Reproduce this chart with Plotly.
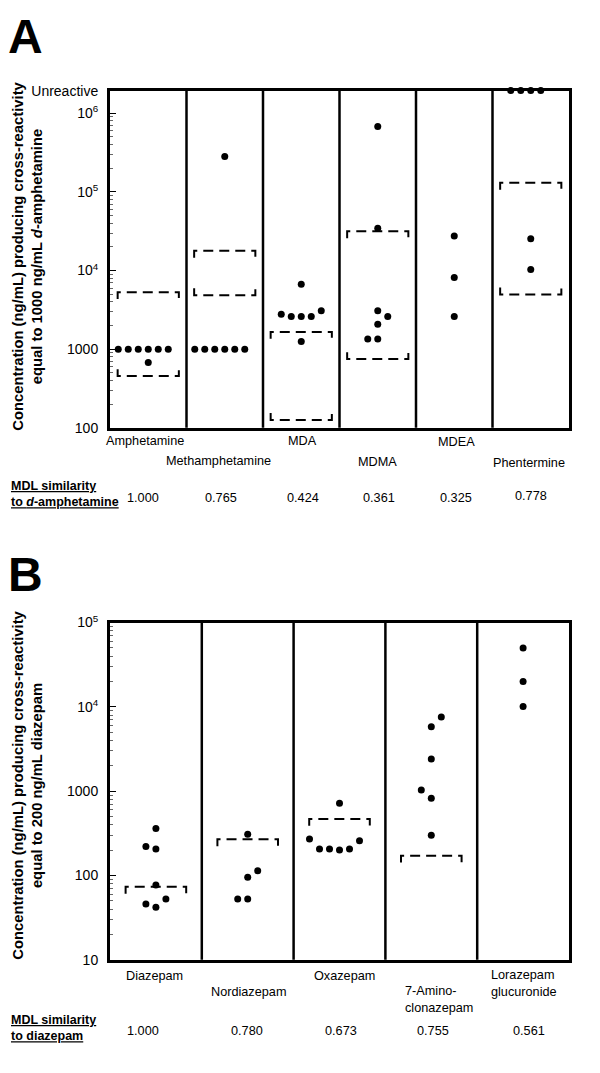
import math
import plotly.graph_objects as go

W, H = 600, 1073
FONT = "Liberation Sans, Arial, Helvetica, sans-serif"

# ---------------- Panel A data (ng/mL) ----------------
UNREACTIVE = 1.94e6  # value used for the "Unreactive" row at the top edge

a_categories = ["Amphetamine", "Methamphetamine", "MDA", "MDMA", "MDEA", "Phentermine"]
a_amphetamine = [1000, 1000, 1000, 1000, 1000, 1000, 680]
a_methamphetamine = [1000, 1000, 1000, 1000, 1000, 1000, 282000]
a_mda = [2790, 2610, 2610, 2610, 3090, 6680, 1250]
a_mdma = [680000, 34500, 3090, 2610, 2080, 1350, 1350]
a_mdea = [27500, 8150, 2610]
a_phentermine = [UNREACTIVE, UNREACTIVE, UNREACTIVE, UNREACTIVE, 25300, 10300]
a_range_high = [5310, 17800, 1660, 31600, None, 130600]
a_range_low = [455, 4870, 126, 750, None, 4970]
a_mdl = ["1.000", "0.765", "0.424", "0.361", "0.325", "0.778"]
a_tickvals = [100, 1000, 1e4, 1e5, 1e6, UNREACTIVE]
a_ticktext = ["100", "1000", "10<sup>4</sup>", "10<sup>5</sup>", "10<sup>6</sup>", "Unreactive"]

# ---------------- Panel B data (ng/mL) ----------------
b_categories = ["Diazepam", "Nordiazepam", "Oxazepam", "7-Amino-<br>clonazepam", "Lorazepam<br>glucuronide"]
b_diazepam = [362, 221, 206, 77, 46, 42, 52.5]
b_nordiazepam = [308, 114, 95, 52.5, 52.5]
b_oxazepam = [721, 270, 206, 206, 201, 206, 258]
b_aminoclonazepam = [7600, 5800, 2400, 1030, 824, 300]
b_lorazepam_gluc = [49800, 20000, 10100]
b_range_high = [73.5, 269, 469, 172, None]
b_mdl = ["1.000", "0.780", "0.673", "0.755", "0.561"]
b_tickvals = [10, 100, 1000, 1e4, 1e5]
b_ticktext = ["10", "100", "1000", "10<sup>4</sup>", "10<sup>5</sup>"]

# ---------------- layout helpers (positions / styles) ----------------
a_series = [a_amphetamine, a_methamphetamine, a_mda, a_mdma, a_mdea, a_phentermine]
a_slots = [[-3, -2, -1, 0, 1, 2, 0], [-3, -2, -1, 0, 1, 2, 0], [-2, -1, 0, 1, 2, 0, 0],
           [0, 0, 0, 1, 0, -1, 0], [0, 0, 0], [-2, -1, 0, 1, 0, 0]]
b_series = [b_diazepam, b_nordiazepam, b_oxazepam, b_aminoclonazepam, b_lorazepam_gluc]
b_slots = [[0, -1, 0, 0, -1, 0, 1], [0, 1, 0, -1, 0], [0, -3, -2, -1, 0, 1, 2],
           [1, 0, 0, -1, 0, 0], [0, 0, 0]]

PLOT_L, PLOT_R = 110, 569
A_TOP, A_BOT = 82, 425
B_TOP, B_BOT = 623, 966
DOT_STEP_PX = 10
BRACKET_TICK_PX = 7

a_label_y = [438, 459, 438, 460, 439, 461]
a_label_dx = [-3, -6, 1, 0, 2, -2]
a_mdl_y = [496, 496, 496, 496, 496, 494]
a_mdl_dx = [-5, -4, 2, 1, 2, 0]
b_label_y = [982, 999, 982, 1006, 990]
b_label_dx = [-1, 1, 5, 8, 1]
b_mdl_y = 1038
b_mdl_dx = [-13, -1, 1, 2, 6]


def py(p):
    return 1 - p / H


fig = go.Figure()


def add_panel(series, slots, highs, lows, ncat, xa, ya, top_px, bot_px, ymin_log, ymax_log, half_width):
    col_px = (PLOT_R - PLOT_L) / ncat
    step = DOT_STEP_PX / col_px
    xs, ys = [], []
    for i, (vals, sl) in enumerate(zip(series, slots)):
        for v, s in zip(vals, sl):
            xs.append(i + 0.5 + s * step)
            ys.append(v)
    fig.add_trace(go.Scatter(x=xs, y=ys, mode="markers", xaxis=xa, yaxis=ya,
                             marker=dict(color="black", size=7, symbol="circle"),
                             cliponaxis=False, hoverinfo="skip", showlegend=False))
    decade_px = (bot_px - top_px) / (ymax_log - ymin_log)
    fac = 10 ** (BRACKET_TICK_PX / decade_px)
    dash = "10px,6px"
    for i in range(ncat):
        x0, x1 = i + 0.5 - half_width, i + 0.5 + half_width
        hi = highs[i]
        if hi is not None:
            fig.add_trace(go.Scatter(x=[x0, x0, x1, x1], y=[hi / fac, hi, hi, hi / fac],
                                     mode="lines", xaxis=xa, yaxis=ya,
                                     line=dict(color="black", width=2, dash=dash),
                                     hoverinfo="skip", showlegend=False))
        lo = lows[i] if lows is not None else None
        if lo is not None:
            fig.add_trace(go.Scatter(x=[x0, x0, x1, x1], y=[lo * fac, lo, lo, lo * fac],
                                     mode="lines", xaxis=xa, yaxis=ya,
                                     line=dict(color="black", width=2, dash=dash),
                                     hoverinfo="skip", showlegend=False))


a_ymax = math.log10(UNREACTIVE)
add_panel(a_series, a_slots, a_range_high, a_range_low, len(a_categories), "x", "y",
          A_TOP, A_BOT, 2, a_ymax, 0.4)
add_panel(b_series, b_slots, b_range_high, None, len(b_categories), "x2", "y2",
          B_TOP, B_BOT, 1, 5, 0.33)

frame = dict(showgrid=False, zeroline=False, showline=True, mirror=True,
             linecolor="black", linewidth=3, fixedrange=True)


def minor_vals(lo_exp, hi_exp):
    out = []
    for e in range(lo_exp, hi_exp):
        for d in range(2, 10):
            out.append(d * 10 ** e)
    return out


yaxis_common = dict(type="log", ticks="inside", ticklen=6, tickwidth=1, tickcolor="black",
                    tickfont=dict(size=14, color="black", family=FONT),
                    ticklabelstandoff=6, tickmode="array", **frame)

fig.update_layout(
    width=W, height=H,
    margin=dict(l=0, r=0, t=0, b=0),
    paper_bgcolor="white", plot_bgcolor="white",
    font=dict(family=FONT, color="black"),
    showlegend=False,
    xaxis=dict(domain=[PLOT_L / W, PLOT_R / W], range=[0, len(a_categories)], anchor="y",
               showticklabels=False, ticks="", **frame),
    yaxis=dict(domain=[py(A_BOT), py(A_TOP)], range=[2, a_ymax], anchor="x",
               tickvals=a_tickvals, ticktext=a_ticktext,
               minor=dict(tickmode="array", tickvals=minor_vals(2, 6), ticks="inside",
                          ticklen=3, tickwidth=1, tickcolor="#666"),
               **yaxis_common),
    xaxis2=dict(domain=[PLOT_L / W, PLOT_R / W], range=[0, len(b_categories)], anchor="y2",
                showticklabels=False, ticks="", **frame),
    yaxis2=dict(domain=[py(B_BOT), py(B_TOP)], range=[1, 5], anchor="x2",
                tickvals=b_tickvals, ticktext=b_ticktext,
                minor=dict(tickmode="array", tickvals=minor_vals(1, 5), ticks="inside",
                           ticklen=3, tickwidth=1, tickcolor="#666"),
                **yaxis_common),
)

shapes = []
for i in range(1, len(a_categories)):
    shapes.append(dict(type="line", xref="x", yref="y domain", x0=i, x1=i, y0=0, y1=1,
                       line=dict(color="black", width=2.5)))
for i in range(1, len(b_categories)):
    shapes.append(dict(type="line", xref="x2", yref="y2 domain", x0=i, x1=i, y0=0, y1=1,
                       line=dict(color="black", width=2.5)))
fig.update_layout(shapes=shapes)

ann = []
LBL = dict(size=12.7, color="black", family=FONT)
# panel letters
ann.append(dict(text="<b>A</b>", x=6 / W, y=py(27), xref="paper", yref="paper",
                xanchor="left", yanchor="middle", showarrow=False,
                font=dict(size=48, color="black", family=FONT)))
ann.append(dict(text="<b>B</b>", x=6 / W, y=py(574), xref="paper", yref="paper",
                xanchor="left", yanchor="middle", showarrow=False,
                font=dict(size=48, color="black", family=FONT)))
# y titles
ann.append(dict(text="<b>Concentration (ng/mL) producing cross-reactivity<br>"
                     "equal to 1000 ng/mL <i>d</i>-amphetamine</b>",
                x=28 / W, y=py(251), xref="paper", yref="paper", textangle=-90,
                xanchor="center", yanchor="middle", showarrow=False,
                font=dict(size=14.8, color="black", family=FONT)))
ann.append(dict(text="<b>Concentration (ng/mL) producing cross-reactivity<br>"
                     "equal to 200 ng/mL diazepam</b>",
                x=28 / W, y=py(789), xref="paper", yref="paper", textangle=-90,
                xanchor="center", yanchor="middle", showarrow=False,
                font=dict(size=14.8, color="black", family=FONT)))
# category labels and MDL values, panel A
for i, name in enumerate(a_categories):
    ann.append(dict(text=name, x=i + 0.5, y=py(a_label_y[i]), xref="x", yref="paper",
                    xshift=a_label_dx[i], xanchor="center", yanchor="middle",
                    showarrow=False, font=LBL))
    ann.append(dict(text=a_mdl[i], x=i + 0.5, y=py(a_mdl_y[i]), xref="x", yref="paper",
                    xshift=a_mdl_dx[i], xanchor="center", yanchor="middle",
                    showarrow=False, font=LBL))
ann.append(dict(text="<b><u>MDL similarity</u></b><br><b><u>to <i>d</i>-amphetamine</u></b>",
                x=9 / W, y=py(492.5), xref="paper", yref="paper", align="left",
                xanchor="left", yanchor="middle", showarrow=False,
                font=dict(size=12.5, color="black", family=FONT)))
# panel B
for i, name in enumerate(b_categories):
    ann.append(dict(text=name, x=i + 0.5, y=py(b_label_y[i]), xref="x2", yref="paper",
                    xshift=b_label_dx[i], xanchor="center", yanchor="middle", align="left",
                    showarrow=False, font=LBL))
    ann.append(dict(text=b_mdl[i], x=i + 0.5, y=py(b_mdl_y), xref="x2", yref="paper",
                    xshift=b_mdl_dx[i], xanchor="center", yanchor="middle",
                    showarrow=False, font=LBL))
ann.append(dict(text="<b><u>MDL similarity</u></b><br><b><u>to diazepam</u></b>",
                x=9 / W, y=py(1035), xref="paper", yref="paper", align="left",
                xanchor="left", yanchor="middle", showarrow=False,
                font=dict(size=12.5, color="black", family=FONT)))
fig.update_layout(annotations=ann)

fig.write_html("out.html", config={"displayModeBar": False},
               post_script="document.body.style.margin='0';document.body.style.overflow='hidden';")
